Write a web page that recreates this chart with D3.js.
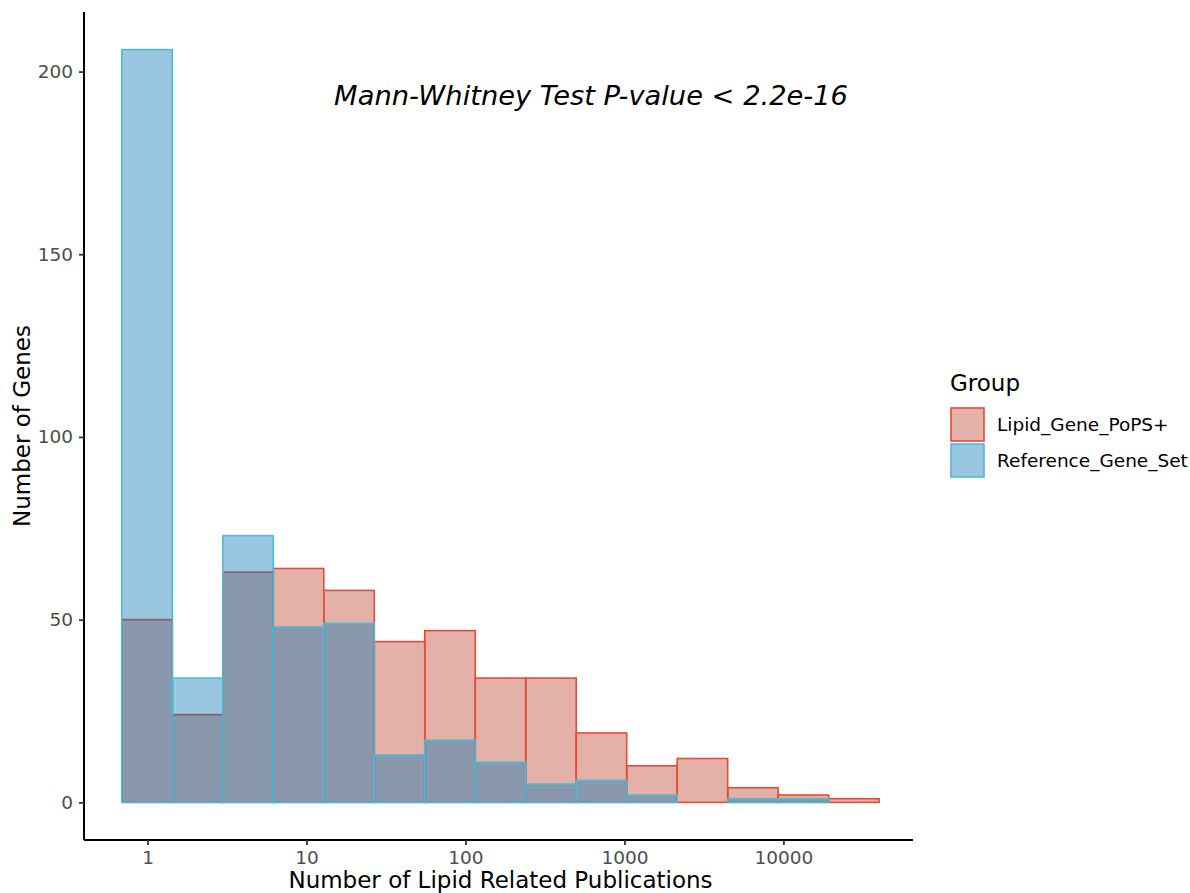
<!DOCTYPE html>
<html>
<head>
<meta charset="utf-8">
<script src="https://cdn.jsdelivr.net/npm/d3@7"></script>
<style>
  body { margin: 0; background: #fff; }
  svg { font-family: "DejaVu Sans", sans-serif; }
</style>
</head>
<body>
<div id="chart"></div>
<script>
// Histogram bins on a log10 axis: 15 bins of equal log width
const binStartLog = -0.1616;
const binWidthLog = 0.3176;
const groups = ['Lipid_Gene_PoPS+', 'Reference_Gene_Set'];
const lipidCounts = [50, 24, 63, 64, 58, 44, 47, 34, 34, 19, 10, 12, 4, 2, 1];
const referenceCounts = [206, 34, 73, 48, 49, 13, 17, 11, 5, 6, 2, 0, 1, 1, 0];
const xTicks = [1, 10, 100, 1000, 10000];
const yTicks = [0, 50, 100, 150, 200];
const annotation = 'Mann-Whitney Test P-value < 2.2e-16';
const annotationPos = { x: 10 ** 2.79, y: 193.5 };

const fillColors = ['#BC3C29', '#0072B5'];
const lineColors = ['#E64B35', '#4DBBD5'];
const fillAlpha = 0.4;

const width = 1190, height = 893;
const panel = { left: 84, right: 917, top: 12, bottom: 840 };
const textSize = 18.5, titleSize = 23;

const svg = d3.select('#chart').append('svg')
  .attr('width', width)
  .attr('height', height);

// build bin table
const nBins = lipidCounts.length;
const bins = d3.range(nBins).map(i => ({
  x0: 10 ** (binStartLog + i * binWidthLog),
  x1: 10 ** (binStartLog + (i + 1) * binWidthLog)
}));
const series = [lipidCounts, referenceCounts].map((counts, g) =>
  counts.map((c, i) => ({ group: g, count: c, x0: bins[i].x0, x1: bins[i].x1 })));

// ggplot-style 5% expansion
const lo = binStartLog, hi = binStartLog + nBins * binWidthLog;
const padX = (hi - lo) * 0.05;
const x = d3.scaleLog()
  .domain([10 ** (lo - padX), 10 ** (hi + padX)])
  .range([panel.left, panel.right]);

const yMax = d3.max([...lipidCounts, ...referenceCounts]);
const y = d3.scaleLinear()
  .domain([-yMax * 0.05, yMax * 1.05])
  .range([panel.bottom, panel.top]);

// bars: lipid group first, reference on top
const barsLayer = svg.append('g').attr('class', 'bars');
series.forEach((data, g) => {
  barsLayer.append('g')
    .selectAll('rect')
    .data(data)
    .join('rect')
    .attr('x', d => x(d.x0))
    .attr('width', d => x(d.x1) - x(d.x0))
    .attr('y', d => y(d.count))
    .attr('height', d => y(0) - y(d.count))
    .attr('fill', fillColors[g])
    .attr('fill-opacity', fillAlpha)
    .attr('stroke', lineColors[g])
    .attr('stroke-width', 1.6);
});

// axes
const xAxis = d3.axisBottom(x)
  .tickValues(xTicks)
  .tickFormat(d3.format('d'))
  .tickSize(5)
  .tickPadding(6);
const yAxis = d3.axisLeft(y)
  .tickValues(yTicks)
  .tickSize(5)
  .tickPadding(6);

const gx = svg.append('g')
  .attr('transform', `translate(0,${panel.bottom})`)
  .call(xAxis);
const gy = svg.append('g')
  .attr('transform', `translate(${panel.left},0)`)
  .call(yAxis);

[gx, gy].forEach(g => {
  g.select('.domain').attr('stroke', '#000').attr('stroke-width', 2);
  g.selectAll('.tick line').attr('stroke', '#333').attr('stroke-width', 1.8);
  g.selectAll('.tick text')
    .attr('fill', '#4d4d4d')
    .style('font-size', textSize + 'px')
    .style('font-family', '"DejaVu Sans", sans-serif');
});
gx.select('.domain').attr('d', `M${panel.left},0H${panel.right - 4}`);
gy.select('.domain').attr('d', `M0,${panel.top}V${panel.bottom}`);

// axis titles
svg.append('text')
  .attr('x', (panel.left + panel.right) / 2)
  .attr('y', 888)
  .attr('text-anchor', 'middle')
  .style('font-size', titleSize + 'px')
  .text('Number of Lipid Related Publications');

svg.append('text')
  .attr('transform', `translate(30,${(panel.top + panel.bottom) / 2}) rotate(-90)`)
  .attr('text-anchor', 'middle')
  .style('font-size', titleSize + 'px')
  .text('Number of Genes');

// annotation
svg.append('text')
  .attr('x', x(annotationPos.x))
  .attr('y', y(annotationPos.y))
  .attr('text-anchor', 'middle')
  .attr('dominant-baseline', 'central')
  .style('font-size', '27.3px')
  .style('font-style', 'italic')
  .text(annotation);

// legend
const legend = svg.append('g').attr('transform', 'translate(950,0)');
legend.append('text')
  .attr('x', 0)
  .attr('y', 391)
  .style('font-size', titleSize + 'px')
  .text('Group');

const keySize = 33;
groups.forEach((name, g) => {
  const top = 408 + g * 36;
  legend.append('rect')
    .attr('x', 1)
    .attr('y', top)
    .attr('width', keySize)
    .attr('height', keySize)
    .attr('fill', fillColors[g])
    .attr('fill-opacity', fillAlpha)
    .attr('stroke', lineColors[g])
    .attr('stroke-width', 1.6);
  legend.append('text')
    .attr('x', 47)
    .attr('y', top + keySize / 2)
    .attr('dominant-baseline', 'central')
    .style('font-size', textSize + 'px')
    .text(name);
});
</script>
</body>
</html>
